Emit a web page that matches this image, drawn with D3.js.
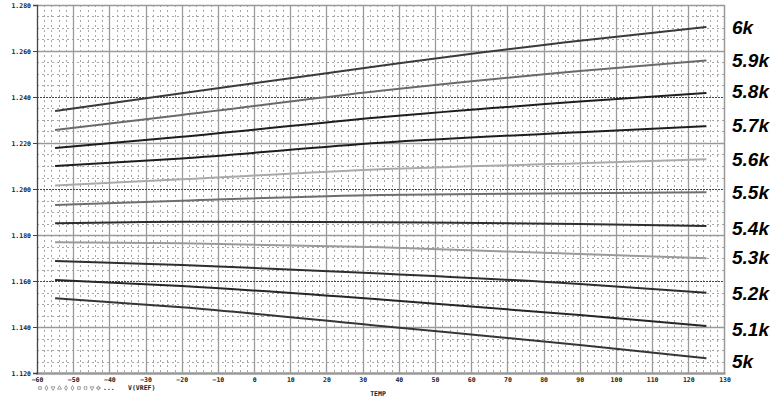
<!DOCTYPE html>
<html><head><meta charset="utf-8">
<script src="https://cdn.jsdelivr.net/npm/d3@7"></script>
<style>
html,body{margin:0;padding:0;background:#fff;}
svg{display:block;}
</style></head>
<body>
<svg id="chart" width="776" height="402"></svg>
<script>
// ---- data ----
const temps = [-55, -20, 35, 90, 125];
const seriesNames = ["6k","5.9k","5.8k","5.7k","5.6k","5.5k","5.4k","5.3k","5.2k","5.1k","5k"];
const s6k   = [1.2339, 1.2416, 1.2536, 1.2645, 1.2704];
const s5_9k = [1.2257, 1.2322, 1.2427, 1.2513, 1.2559];
const s5_8k = [1.2178, 1.2227, 1.2312, 1.2380, 1.2417];
const s5_7k = [1.2100, 1.2133, 1.2201, 1.2247, 1.2273];
const s5_6k = [1.2015, 1.2042, 1.2086, 1.2112, 1.2129];
const s5_5k = [1.1930, 1.1949, 1.1974, 1.1981, 1.1986];
const s5_4k = [1.1851, 1.1858, 1.1855, 1.1848, 1.1839];
const s5_3k = [1.1768, 1.1764, 1.1747, 1.1717, 1.1699];
const s5_2k = [1.1687, 1.1670, 1.1633, 1.1587, 1.1549];
const s5_1k = [1.1604, 1.1578, 1.1520, 1.1452, 1.1404];
const s5k   = [1.1525, 1.1486, 1.1404, 1.1322, 1.1264];
const seriesValues = [s6k,s5_9k,s5_8k,s5_7k,s5_6k,s5_5k,s5_4k,s5_3k,s5_2k,s5_1k,s5k];
const labelValues = [1.2704,1.2559,1.2417,1.2273,1.2129,1.1986,1.1839,1.1699,1.1549,1.1404,1.1264];
const labelOffsets = [0,0,-1,-0.5,0,0,1,-0.5,0,1.3,1.1];
const xTickValues = [-60,-50,-40,-30,-20,-10,0,10,20,30,40,50,60,70,80,90,100,110,120,130];
const yTickValues = [1.12,1.14,1.16,1.18,1.20,1.22,1.24,1.26,1.28];
const xTitle = "TEMP";
const legendText = "V(VREF)";

// ---- styles ----
const lineColors = ["#3a3a3a","#6a6a6a","#1e1e1e","#1e1e1e","#aaaaaa","#6e6e6e","#2e2e2e","#9a9a9a","#2e2e2e","#262626","#363636"];

const svg = d3.select("#chart");
const L = 37, R = 724.5, T = 5, B = 373;
const x = d3.scaleLinear().domain([-60,130]).range([L,R]);
const y = d3.scaleLinear().domain([1.12,1.28]).range([B,T]);

svg.append("rect").attr("x",0).attr("y",0).attr("width",776).attr("height",402).attr("fill","#fff");

const g = svg.append("g");
// minor vertical grid every 2
const minorX = d3.range(-58,130,2).filter(v => v % 10 !== 0);
g.selectAll(".mvx").data(minorX).join("line")
  .attr("x1",d=>Math.round(x(d))+0.5).attr("x2",d=>Math.round(x(d))+0.5)
  .attr("y1",T).attr("y2",B)
  .attr("stroke","#a6a6a6").attr("stroke-width",1).attr("stroke-dasharray","2,3");
// minor horizontal every 5 mV
const minorY = d3.range(1,32).map(i => 1.12 + i*0.005).filter((v,i)=> (i+1)%4 !== 0);
g.selectAll(".mhy").data(minorY).join("line")
  .attr("x1",L).attr("x2",R)
  .attr("y1",d=>Math.round(y(d))+0.5).attr("y2",d=>Math.round(y(d))+0.5)
  .attr("stroke","#a6a6a6").attr("stroke-width",1).attr("stroke-dasharray","2,3");
// major vertical
g.selectAll(".Mvx").data(xTickValues.slice(1,-1)).join("line")
  .attr("x1",d=>Math.round(x(d))+0.5).attr("x2",d=>Math.round(x(d))+0.5)
  .attr("y1",T).attr("y2",B)
  .attr("stroke","#9a9a9a").attr("stroke-width",1.3);
// major horizontal (alternating)
g.selectAll(".Mhy").data(yTickValues.slice(1,-1)).join("line")
  .attr("x1",L).attr("x2",R)
  .attr("y1",d=>Math.round(y(d))+0.5).attr("y2",d=>Math.round(y(d))+0.5)
  .attr("stroke",(d,i)=> i%2===0 ? "#9a9a9a" : "#444")
  .attr("stroke-width",(d,i)=> i%2===0 ? 1.3 : 1)
  .attr("stroke-dasharray",(d,i)=> i%2===0 ? null : "2,1");

// frame
svg.append("line").attr("x1",L).attr("x2",R).attr("y1",T+0.5).attr("y2",T+0.5).attr("stroke","#999").attr("stroke-width",1.3);
svg.append("line").attr("x1",R).attr("x2",R).attr("y1",T).attr("y2",B).attr("stroke","#999").attr("stroke-width",1.5);
svg.append("line").attr("x1",L-1).attr("x2",R+1).attr("y1",B+0.5).attr("y2",B+0.5).attr("stroke","#999").attr("stroke-width",2.5);

// axes
const fontSpec = "'DejaVu Sans Mono', monospace";
const yAxis = d3.axisLeft(y).tickValues(yTickValues).tickFormat(d3.format(".3f")).tickSize(4).tickPadding(2);
const ya = svg.append("g").attr("transform",`translate(${L},0)`).call(yAxis);
ya.select(".domain").attr("stroke","#444").attr("stroke-width",1.3);
ya.selectAll(".tick line").attr("stroke","#444");
ya.selectAll("text").attr("font-family",fontSpec).attr("font-weight","bold").attr("font-size","6.5px").attr("fill","#222");

const xAxis = d3.axisBottom(x).tickValues(xTickValues).tickFormat(d3.format("d")).tickSize(0).tickPadding(4);
const xa = svg.append("g").attr("transform",`translate(0,${B})`).call(xAxis);
xa.select(".domain").remove();
xa.selectAll("text").attr("font-family",fontSpec).attr("font-weight","bold").attr("font-size","6.5px").attr("fill","#222");

svg.append("text").attr("x",378).attr("y",396).attr("text-anchor","middle")
  .attr("font-family",fontSpec).attr("font-weight","bold").attr("font-size","6.5px").attr("fill","#222").text(xTitle);

// series lines
const lineGen = d3.line().x((d,i)=>x(temps[i])).y(d=>y(d)).curve(d3.curveMonotoneX);
svg.append("g").selectAll("path").data(seriesValues).join("path")
  .attr("d", d => lineGen(d))
  .attr("fill","none").attr("stroke",(d,i)=>lineColors[i]).attr("stroke-width",2);

// right labels
svg.append("g").selectAll("text").data(seriesNames).join("text")
  .attr("x",732)
  .attr("y",(d,i)=> y(labelValues[i]) + labelOffsets[i]*2.3 + 7)
  .attr("font-family","'Liberation Sans', Arial, sans-serif")
  .attr("font-weight","bold").attr("font-style","italic").attr("font-size","19px").attr("fill","#000")
  .text(d=>d);

// legend
const symTypes = [d3.symbolSquare,d3.symbolDiamond,d3.symbolTriangle,d3.symbolTriangle,d3.symbolDiamond,d3.symbolDiamond,d3.symbolSquare,d3.symbolCross,d3.symbolTriangle,d3.symbolCross];
svg.append("g").selectAll("path").data(symTypes).join("path")
  .attr("transform",(d,i)=>`translate(${40+i*6.5},388) ${i===2||i===8?'rotate(180)':''} ${i===7?'rotate(45)':''}`)
  .attr("d",d=>d3.symbol().type(d).size(7)())
  .attr("fill","none").attr("stroke","#888").attr("stroke-width",0.8);
svg.append("text").attr("x",103).attr("y",390).attr("font-family",fontSpec).attr("font-weight","bold").attr("font-size","6.5px").attr("fill","#222").text("...");
svg.append("text").attr("x",128).attr("y",390).attr("font-family",fontSpec).attr("font-weight","bold").attr("font-size","6.5px").attr("fill","#222").text(legendText);
</script>
</body></html>
